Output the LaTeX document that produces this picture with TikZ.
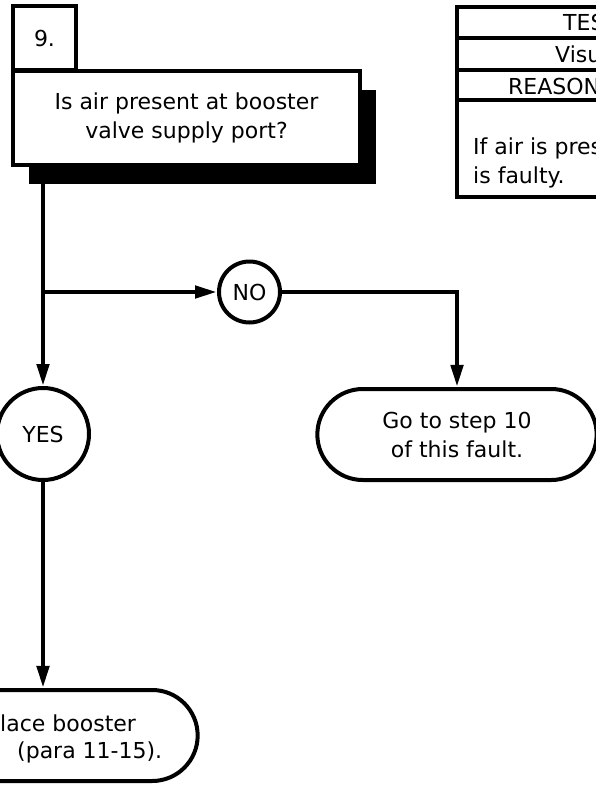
\documentclass[tikz,border=0pt]{standalone}
\usepackage{fontspec}
\setmainfont{DejaVu Sans}
\usetikzlibrary{positioning, shapes.misc, arrows.meta, shadows}

\tikzset{
	chartline/.style={line width=4.5pt},
	flow/.style={chartline, -{Triangle[length=22pt, width=12pt]}}
}
\tikzset{
	stepno/.style={draw, line width=4pt, fill=white, minimum width=63pt, minimum height=64pt, inner sep=0pt}
}
\tikzset{
	question/.style={draw, line width=4pt, fill=white, minimum width=347pt, minimum height=94pt, align=center,
		drop shadow={shadow xshift=16pt, shadow yshift=-19pt, fill=black, opacity=1}}
}
\tikzset{
	answer/.style={circle, draw, line width=4pt, fill=white, inner sep=0pt}
}
\tikzset{
	terminal/.style={rounded rectangle, draw, line width=4pt, fill=white, minimum height=91pt, align=center}
}
\tikzset{
	cuttext/.style={anchor=west, inner sep=0pt}
}

\begin{document}
\begin{tikzpicture}[x=1pt, y=-1pt, font=\fontsize{22}{29}\selectfont]
\useasboundingbox (0,0) rectangle (596,785);
\clip (0,0) rectangle (596,785);

% step number and question
\node[stepno] (num) at (44.5,38) {9.};
\node[question] (q) at (186.5,118) {Is air present at booster\\valve supply port?};
\coordinate (qout) at (43,183);

% answers
\node[answer, minimum size=61pt] (no) at (249.5,292) {NO};
\node[answer, minimum size=92pt] (yes) at (43,434) {YES};

% end points
\node[terminal, minimum width=286pt] (goto) at (457,434.5) {Go to step 10\\of this fault.};
\node[terminal, minimum width=316pt] (repl) at (43,735.5) {};
\node[cuttext] (replA) at (0,723) {lace booster};
\node[cuttext] (replB) at (17,752) {(para 11-15).};

% connectors
\draw[flow] (qout) -- (yes);
\draw[flow] (qout |- no) -- (no);
\draw[flow] (no) -| (goto);
\draw[flow] (yes) -- (repl);

% reason table
\draw[chartline] (457,7) rectangle (620,197);
\foreach \y in {38,70,100}
	\draw[chartline] (457,\y) -- (620,\y);
\node[cuttext] (test) at (563,22) {TES};
\node[cuttext] (visu) at (555,54) {Visu};
\node[cuttext] (reason) at (508,86) {REASON};
\node[cuttext] (whyA) at (473,148) {If air is pres};
\node[cuttext] (whyB) at (473,177) {is faulty.};

\end{tikzpicture}
\end{document}
